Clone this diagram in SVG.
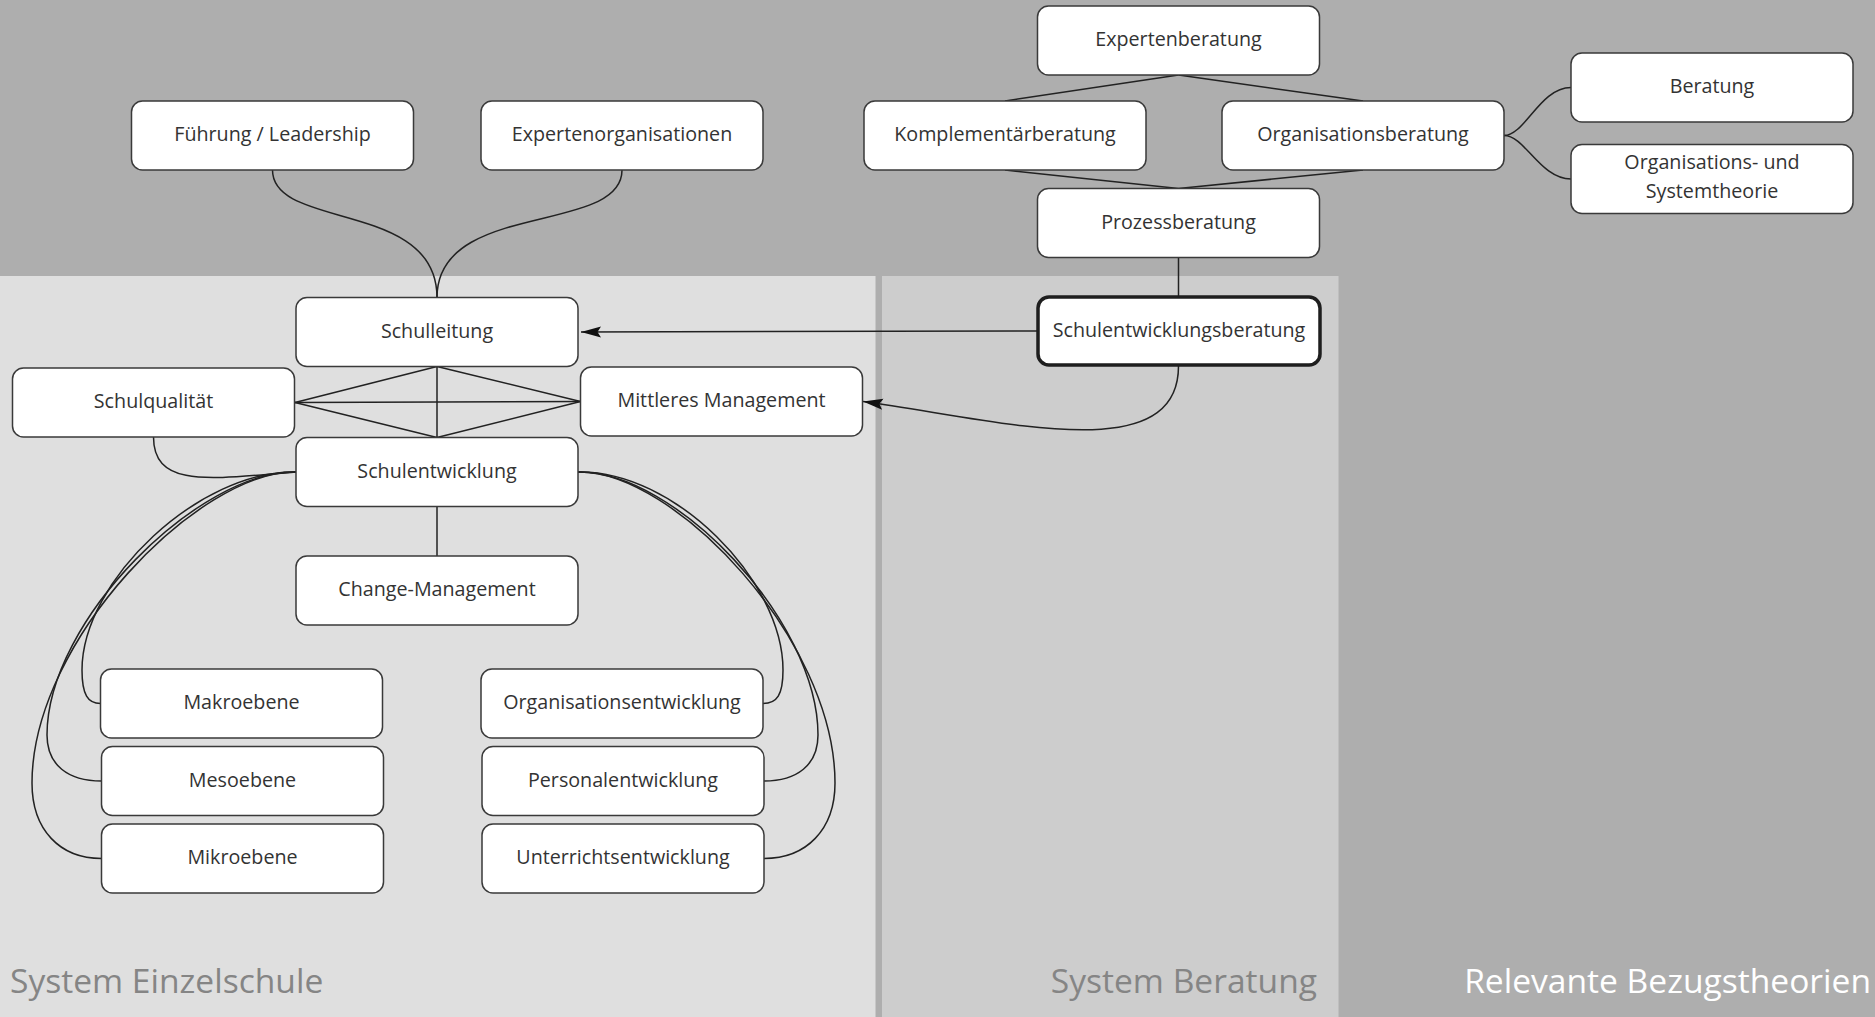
<svg xmlns="http://www.w3.org/2000/svg" width="1875" height="1017" viewBox="0 0 1875 1017">
<style>
.node rect{fill:#ffffff;stroke:#3a3a3a;stroke-width:1.5}
.node.bold rect{stroke:#1e1e1e;stroke-width:3.5}
.node text{font-family:"Open Sans","Noto Sans","Liberation Sans",sans-serif;font-size:19.7px;fill:#333333;text-anchor:middle}
.conn path,.conn line{fill:none;stroke:#222222;stroke-width:1.5}
.lbl{font-family:"Open Sans","Noto Sans","Liberation Sans",sans-serif;font-size:33.6px}
</style>
<defs>
<marker id="arr" markerUnits="userSpaceOnUse" markerWidth="22" markerHeight="12" refX="20" refY="6" orient="auto">
<path d="M0,0.5 L20,6 L0,11.5 L3.5,6 Z" fill="#111111"/>
</marker>
</defs>
<g id="background">
<rect x="0" y="0" width="1875" height="1017" fill="#aeaeae"/>
<rect x="0" y="276" width="875.5" height="741" fill="#dfdfdf"/>
<rect x="882" y="276" width="456.5" height="741" fill="#cdcdcd"/>
</g>
<g id="labels">
<text class="lbl" x="10" y="993" fill="#858585">System Einzelschule</text>
<text class="lbl" x="1317" y="993" fill="#858585" text-anchor="end">System Beratung</text>
<text class="lbl" x="1871" y="993" fill="#ffffff" text-anchor="end">Relevante Bezugstheorien</text>
</g>
<g id="connectors" class="conn">
<path d="M272.5,170 C272.5,230 437,200 437,297.5"/>
<path d="M622,170 C622,235 437,200 437,297.5"/>
<line x1="1178.5" y1="75" x2="1005" y2="101"/>
<line x1="1178.5" y1="75" x2="1363" y2="101"/>
<line x1="1005" y1="170" x2="1178.5" y2="188.5"/>
<line x1="1363" y1="170" x2="1178.5" y2="188.5"/>
<line x1="1178.5" y1="257.5" x2="1178.5" y2="297"/>
<path d="M1504,135.5 C1525,135.5 1540,87.5 1571,87.5"/>
<path d="M1504,135.5 C1525,135.5 1540,179 1571,179"/>
<path d="M1038,331 L581,332" marker-end="url(#arr)"/>
<path d="M1178.5,366 C1178.5,470 1000,420 863,401.5" marker-end="url(#arr)"/>
<line x1="437" y1="366.5" x2="295" y2="402.5"/>
<line x1="437" y1="366.5" x2="580.5" y2="401.5"/>
<line x1="437" y1="366.5" x2="437" y2="437.5"/>
<line x1="295" y1="402.5" x2="580.5" y2="401.5"/>
<line x1="295" y1="402.5" x2="437" y2="437.5"/>
<line x1="580.5" y1="401.5" x2="437" y2="437.5"/>
<path d="M153.5,437 C153.5,490 215,478 296,472"/>
<line x1="437" y1="506.5" x2="437" y2="556"/>
<path d="M296,472 C200,470 82,580 82,670 C82,695 88,703.5 100.5,703.5"/>
<path d="M296,472 C200,470 47,620 47,735 C47,765 68,781 101.5,781"/>
<path d="M296,472 C200,470 32,640 32,783 C32,830 60,858.5 101.5,858.5"/>
<path d="M578,472 C674,470 783,580 783,670 C783,695 777,703.5 763,703.5"/>
<path d="M578,472 C674,470 818,620 818,735 C818,765 797,781 764,781"/>
<path d="M578,472 C674,470 835,640 835,783 C835,830 806,858.5 764,858.5"/>
</g>
<g id="n-fuehrung" class="node"><rect x="131.5" y="101" width="282" height="69" rx="11"/><text x="272.5" y="141">Führung / Leadership</text></g>
<g id="n-expertenorg" class="node"><rect x="481" y="101" width="282" height="69" rx="11"/><text x="622" y="141">Expertenorganisationen</text></g>
<g id="n-schulleitung" class="node"><rect x="296" y="297.5" width="282" height="69" rx="11"/><text x="437" y="337.5">Schulleitung</text></g>
<g id="n-schulqualitaet" class="node"><rect x="12.5" y="368" width="282" height="69" rx="11"/><text x="153.5" y="408">Schulqualität</text></g>
<g id="n-mittleres" class="node"><rect x="580.5" y="367" width="282" height="69" rx="11"/><text x="721.5" y="407">Mittleres Management</text></g>
<g id="n-schulentwicklung" class="node"><rect x="296" y="437.5" width="282" height="69" rx="11"/><text x="437" y="477.5">Schulentwicklung</text></g>
<g id="n-change" class="node"><rect x="296" y="556" width="282" height="69" rx="11"/><text x="437" y="596">Change-Management</text></g>
<g id="n-makro" class="node"><rect x="100.5" y="669" width="282" height="69" rx="11"/><text x="241.5" y="709">Makroebene</text></g>
<g id="n-meso" class="node"><rect x="101.5" y="746.5" width="282" height="69" rx="11"/><text x="242.5" y="786.5">Mesoebene</text></g>
<g id="n-mikro" class="node"><rect x="101.5" y="824" width="282" height="69" rx="11"/><text x="242.5" y="864">Mikroebene</text></g>
<g id="n-orgentw" class="node"><rect x="481" y="669" width="282" height="69" rx="11"/><text x="622" y="709">Organisationsentwicklung</text></g>
<g id="n-personal" class="node"><rect x="482" y="746.5" width="282" height="69" rx="11"/><text x="623" y="786.5">Personalentwicklung</text></g>
<g id="n-unterricht" class="node"><rect x="482" y="824" width="282" height="69" rx="11"/><text x="623" y="864">Unterrichtsentwicklung</text></g>
<g id="n-expertenberatung" class="node"><rect x="1037.5" y="6" width="282" height="69" rx="11"/><text x="1178.5" y="46">Expertenberatung</text></g>
<g id="n-komplementaer" class="node"><rect x="864" y="101" width="282" height="69" rx="11"/><text x="1005" y="141">Komplementärberatung</text></g>
<g id="n-orgberatung" class="node"><rect x="1222" y="101" width="282" height="69" rx="11"/><text x="1363" y="141">Organisationsberatung</text></g>
<g id="n-prozess" class="node"><rect x="1037.5" y="188.5" width="282" height="69" rx="11"/><text x="1178.5" y="228.5">Prozessberatung</text></g>
<g id="n-seb" class="node bold"><rect x="1038" y="297" width="282" height="68" rx="11"/><text x="1179" y="336.5">Schulentwicklungsberatung</text></g>
<g id="n-beratung" class="node"><rect x="1571" y="53" width="282" height="69" rx="11"/><text x="1712" y="93">Beratung</text></g>
<g id="n-orgsys" class="node"><rect x="1571" y="144.5" width="282" height="69" rx="11"/><text x="1712" y="169">Organisations- und</text><text x="1712" y="197.5">Systemtheorie</text></g>
</svg>
